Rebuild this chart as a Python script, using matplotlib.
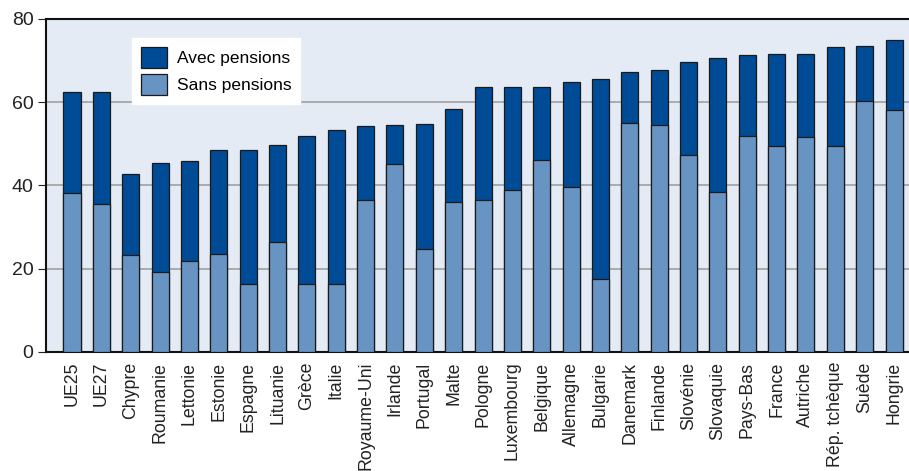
import numpy as np
import matplotlib.pyplot as plt

plt.rcParams['font.family'] = ['Liberation Sans', 'DejaVu Sans']

pays = ['UE25', 'UE27', 'Chypre', 'Roumanie', 'Lettonie', 'Estonie', 'Espagne',
        'Lituanie', 'Grèce', 'Italie', 'Royaume-Uni', 'Irlande', 'Portugal', 'Malte',
        'Pologne', 'Luxembourg', 'Belgique', 'Allemagne', 'Bulgarie', 'Danemark',
        'Finlande', 'Slovénie', 'Slovaquie', 'Pays-Bas', 'France', 'Autriche',
        'Rép. tchèque', 'Suède', 'Hongrie']
# taux avant transferts, avec pensions (total)
avec = [62.4, 62.4, 42.7, 45.5, 45.9, 48.5, 48.6, 49.8, 52.0, 53.3, 54.4, 54.6,
        54.8, 58.4, 63.7, 63.7, 63.7, 64.8, 65.6, 67.3, 67.8, 69.7, 70.7, 71.3,
        71.5, 71.7, 73.2, 73.4, 75.0]
# sans pensions
sans = [38.1, 35.6, 23.4, 19.1, 21.8, 23.5, 16.3, 26.5, 16.3, 16.3, 36.4, 45.1,
        24.7, 36.0, 36.6, 38.8, 46.1, 39.6, 17.5, 55.0, 54.6, 47.4, 38.4, 51.9,
        49.6, 51.6, 49.6, 60.3, 58.1]

dark = '#004b96'
light = '#6894c4'

fig = plt.figure(figsize=(9.09, 4.71), dpi=100)
ax = fig.add_axes([46/909, 1 - 352/471, 863/909, 333/471])
ax.set_facecolor('#e4ebf4')

x = np.arange(len(pays))
ax.bar(x, avec, width=0.58, color=dark, edgecolor='#1a1a1a', linewidth=0.9,
       label='Avec pensions', zorder=2)
ax.bar(x, sans, width=0.58, color=light, edgecolor='#1a1a1a', linewidth=0.9,
       label='Sans pensions', zorder=3)

ax.set_ylim(0, 80)
ax.set_xlim(-0.886, len(pays) - 0.49)
ax.set_yticks([0, 20, 40, 60, 80])
ax.yaxis.grid(True, color='#a0a0a0', linewidth=1.2, zorder=0)
ax.set_axisbelow(True)
ax.set_xticks(x)
ax.set_xticklabels(pays, rotation=90, fontsize=12.8, color='#222222')
ax.tick_params(axis='x', length=0, pad=7)
ax.tick_params(axis='y', labelsize=14, colors='#222222', length=6, width=0.8, pad=3)
for s in ['left', 'bottom', 'top']:
    ax.spines[s].set_color('#111111')
    ax.spines[s].set_linewidth(1.5)
ax.spines['right'].set_visible(False)

leg = ax.legend(loc='upper left', bbox_to_anchor=(132/909, 1 - 38/471),
                bbox_transform=fig.transFigure, borderaxespad=0, fontsize=12.5,
                frameon=True, fancybox=False, edgecolor='white', framealpha=1,
                handlelength=1.5, handleheight=1.5, handletextpad=0.6,
                borderpad=0.5, labelspacing=0.35)

fig.savefig('out.png', dpi=100)
